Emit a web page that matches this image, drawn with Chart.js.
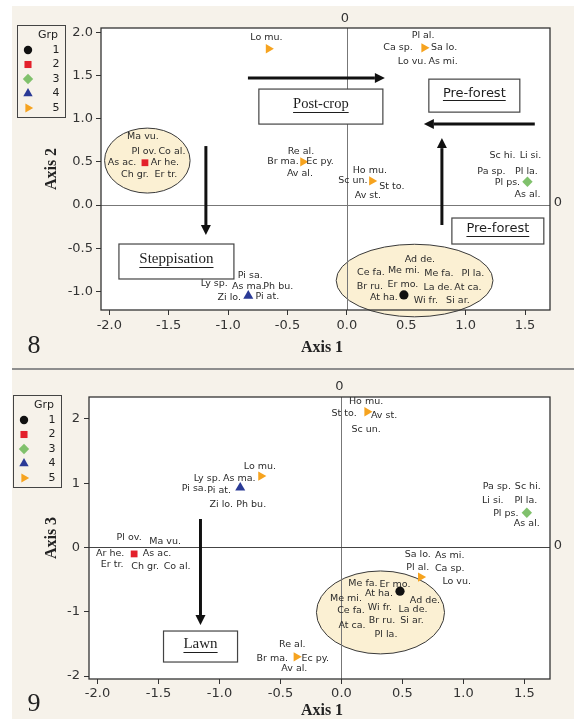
<!DOCTYPE html>
<html>
<head>
<meta charset="utf-8">
<script src="https://cdn.jsdelivr.net/npm/chart.js@4.4.1/dist/chart.umd.min.js"></script>
<style>
  html, body { margin: 0; padding: 0; background: #fff; }
  #page { position: relative; width: 574px; height: 719px; background: #fff; overflow: hidden; }
  #paper { position: absolute; left: 12px; top: 6px; right: 0; bottom: 0; background: #f6f2ea; }
  #rule { position: absolute; left: 12px; right: 0; top: 368px; height: 2px; background: #8e8e8e; }
  canvas { position: absolute; left: 0; }
  #c8 { top: 0; }
  #c9 { top: 370px; }
</style>
</head>
<body>
<div id="page">
  <div id="paper"></div>
  <div id="rule"></div>
  <canvas id="c8" width="574" height="368"></canvas>
  <canvas id="c9" width="574" height="349"></canvas>
</div>
<script>
// ---- data -------------------------------------------------------------
const groupNames = ['1', '2', '3', '4', '5'];
const groupColors = ['#111111', '#e3202b', '#80c16c', '#2a3a96', '#f6a31f'];

// ordination scores, one list per group (group 5 holds four species clusters)
const axis1Scores = [[0.48], [-1.70], [1.52], [-0.83], [-0.66, 0.65, -0.37, 0.21]];
const axis2Scores = [[-1.04], [0.49], [0.27], [-1.05], [1.81, 1.82, 0.50, 0.28]];
const axis3Scores = [[-0.68], [-0.10], [0.54], [0.93], [1.11, -0.46, -1.70, 2.11]];

// species attached to each point
const speciesSets = [
  [['Ad de.', 'Ce fa.', 'Me mi.', 'Me fa.', 'Pl la.', 'Br ru.', 'Er mo.', 'La de.', 'At ca.', 'At ha.', 'Wi fr.', 'Si ar.']],
  [['Ma vu.', 'Pl ov.', 'Co al.', 'As ac.', 'Ar he.', 'Ch gr.', 'Er tr.']],
  [['Sc hi.', 'Li si.', 'Pa sp.', 'Pl la.', 'Pl ps.', 'As al.']],
  [['Pi sa.', 'Ly sp.', 'As ma.', 'Ph bu.', 'Zi lo.', 'Pi at.']],
  [['Lo mu.'], ['Pl al.', 'Ca sp.', 'Sa lo.', 'Lo vu.', 'As mi.'], ['Re al.', 'Br ma.', 'Ec py.', 'Av al.'], ['Ho mu.', 'Sc un.', 'St to.', 'Av st.']]
];

const xTicks = [-2.0, -1.5, -1.0, -0.5, 0.0, 0.5, 1.0, 1.5];
const axis2Ticks = [-1.0, -0.5, 0.0, 0.5, 1.0, 1.5, 2.0];
const axis3Ticks = [-2, -1, 0, 1, 2];

// ---- styling ------------------------------------------------------------
const SANS = "'DejaVu Sans', Verdana, sans-serif";
const SERIF = "'Liberation Serif', 'Times New Roman', serif";
const pointStyles = ['circle', 'rect', 'rectRot', 'triangle', 'triangle'];
const pointRotations = [0, 0, 0, 0, 90];
const pointRadii = [4.6, 4.8, 5.2, 5.8, 5.4];
const legendRadii = [4.2, 5.0, 5.2, 5.4, 5.2];

// label placement: pixel offsets of each species name from its point
const labelOffsets8 = [
  [[[16,-35],[-33,-22],[0,-24],[35,-21],[69,-21],[-34,-8],[-1,-10],[34,-7],[64,-7],[-20,3],[22,6],[54,6]]],
  [[[-2,-26],[-1,-11],[27,-11],[-23,0],[20,0],[-10,12],[21,12]]],
  [[[-25,-26],[3,-26],[-36,-10],[-1,-10],[-20,1],[0,13]]],
  [[[2,-20],[-34,-12],[0,-9],[30,-9],[-19,2],[19,1]]],
  [[[-2,-11]], [[-1,-12],[-26,0],[20,0],[-12,14],[19,14]], [[-2,-10],[-20,0],[17,0],[-3,12]], [[-2,-10],[-19,0],[20,6],[-4,15]]]
];
const labelOffsets9 = [
  [[[25,9],[-49,19],[-54,7],[-37,-8],[-14,43],[-18,29],[-5,-7],[13,18],[-48,34],[-21,2],[-20,16],[12,29]]],
  [[[31,-12],[-5,-16],[43,13],[23,0],[-24,0],[11,13],[-22,11]]],
  [[[1,-26],[-34,-12],[-30,-26],[-1,-12],[-21,1],[0,11]]],
  [[[-46,1],[-33,-9],[-1,-9],[11,17],[-19,17],[-21,3]]],
  [[[-1,-10]], [[-3,-10],[29,-9],[-3,-23],[36,4],[29,-22]], [[-4,-12],[-24,2],[19,2],[-2,12]], [[-1,-10],[-1,18],[-23,2],[17,4]]]
];

// annotation shapes, in axis units
const decor8 = {
  ellipses: [
    { cx: -1.68, cy: 0.515, rx: 0.36, ry: 0.376 },
    { cx: 0.57, cy: -0.874, rx: 0.66, ry: 0.42 }
  ],
  boxes: [
    { x1: -0.741, x2: 0.303, y1: 1.343, y2: 0.9375, text: 'Post-crop', font: SERIF, size: 14.5 },
    { x1: 0.69, x2: 1.456, y1: 1.458, y2: 1.076, text: 'Pre-forest', font: SANS, size: 13 },
    { x1: 0.884, x2: 1.658, y1: -0.150, y2: -0.451, text: 'Pre-forest', font: SANS, size: 13 },
    { x1: -1.919, x2: -0.951, y1: -0.451, y2: -0.856, text: 'Steppisation', font: SERIF, size: 15 }
  ],
  arrows: [
    { x1: -0.833, y1: 1.47, x2: 0.32, y2: 1.47 },
    { x1: 1.582, y1: 0.9375, x2: 0.648, y2: 0.9375 },
    { x1: 0.80, y1: -0.231, x2: 0.80, y2: 0.775 },
    { x1: -1.187, y1: 0.683, x2: -1.187, y2: -0.347 }
  ],
  yTitle: 'Axis 2', figNo: '8', legendX: 17, zeroTopGap: 9, hZeroColor: '#777',
  titleGap: 38, figGap: 36
};
const decor9 = {
  ellipses: [
    { cx: 0.32, cy: -1.01, rx: 0.525, ry: 0.645 }
  ],
  boxes: [
    { x1: -1.459, x2: -0.852, y1: -1.299, y2: -1.781, text: 'Lawn', font: SERIF, size: 15 }
  ],
  arrows: [
    { x1: -1.156, y1: 0.443, x2: -1.156, y2: -1.205 }
  ],
  yTitle: 'Axis 3', figNo: '9', legendX: 13, zeroTopGap: 10, hZeroColor: '#444',
  titleGap: 32, figGap: 25
};

// ---- drawing helpers -------------------------------------------------
function marker(ctx, i, x, y, r) {
  ctx.save();
  ctx.fillStyle = groupColors[i];
  ctx.strokeStyle = groupColors[i];
  if (Chart.helpers && Chart.helpers.drawPoint) {
    Chart.helpers.drawPoint(ctx, { pointStyle: pointStyles[i], rotation: pointRotations[i], radius: r, borderWidth: 0 }, x, y);
  } else {
    ctx.beginPath(); ctx.arc(x, y, r, 0, Math.PI * 2); ctx.fill();
  }
  ctx.restore();
}

function arrow(ctx, x1, y1, x2, y2) {
  const a = Math.atan2(y2 - y1, x2 - x1), L = 10, W = 5;
  const bx = x2 - L * Math.cos(a), by = y2 - L * Math.sin(a);
  ctx.save();
  ctx.strokeStyle = '#111'; ctx.fillStyle = '#111'; ctx.lineWidth = 3;
  ctx.beginPath(); ctx.moveTo(x1, y1); ctx.lineTo(bx, by); ctx.stroke();
  ctx.beginPath(); ctx.moveTo(x2, y2);
  ctx.lineTo(bx + W * Math.sin(a), by - W * Math.cos(a));
  ctx.lineTo(bx - W * Math.sin(a), by + W * Math.cos(a));
  ctx.closePath(); ctx.fill();
  ctx.restore();
}

function decorPlugin(decor, offsets) {
  return {
    id: 'ordinationDecor',
    beforeDraw(chart) {
      const { ctx, chartArea: a } = chart;
      ctx.save(); ctx.fillStyle = '#ffffff';
      ctx.fillRect(a.left, a.top, a.right - a.left, a.bottom - a.top);
      ctx.restore();
    },
    beforeDatasetsDraw(chart) {
      const { ctx, chartArea: a, scales: { x, y } } = chart;
      ctx.save();
      // shaded ellipses
      decor.ellipses.forEach(e => {
        const cx = x.getPixelForValue(e.cx), cy = y.getPixelForValue(e.cy);
        const rx = Math.abs(x.getPixelForValue(e.cx + e.rx) - cx);
        const ry = Math.abs(y.getPixelForValue(e.cy + e.ry) - cy);
        ctx.beginPath(); ctx.ellipse(cx, cy, rx, ry, 0, 0, Math.PI * 2);
        ctx.fillStyle = '#fbf0d3'; ctx.fill();
        ctx.strokeStyle = '#3a3a3a'; ctx.lineWidth = 1; ctx.stroke();
      });
      // zero reference lines
      const x0 = Math.round(x.getPixelForValue(0)) + 0.5, y0 = Math.round(y.getPixelForValue(0)) + 0.5;
      ctx.lineWidth = 1;
      ctx.strokeStyle = '#777';
      ctx.beginPath(); ctx.moveTo(x0, a.top); ctx.lineTo(x0, a.bottom); ctx.stroke();
      ctx.strokeStyle = decor.hZeroColor;
      ctx.beginPath(); ctx.moveTo(a.left, y0); ctx.lineTo(a.right, y0); ctx.stroke();
      ctx.restore();
    },
    afterDatasetsDraw(chart) {
      const { ctx, chartArea: a, scales: { x, y } } = chart;
      ctx.save();
      // species names around each point
      ctx.font = '9.5px ' + SANS;
      ctx.fillStyle = '#2b2b2b';
      ctx.textAlign = 'center'; ctx.textBaseline = 'middle';
      speciesSets.forEach((sets, i) => {
        const meta = chart.getDatasetMeta(i);
        sets.forEach((names, j) => {
          const pt = meta.data[j];
          names.forEach((n, k) => {
            const o = offsets[i][j][k];
            ctx.fillText(n, pt.x + o[0], pt.y + o[1]);
          });
        });
      });
      // arrows
      decor.arrows.forEach(r => arrow(ctx,
        x.getPixelForValue(r.x1), y.getPixelForValue(r.y1),
        x.getPixelForValue(r.x2), y.getPixelForValue(r.y2)));
      // labelled boxes
      decor.boxes.forEach(b => {
        const l = x.getPixelForValue(b.x1), r = x.getPixelForValue(b.x2);
        const t = y.getPixelForValue(b.y1), btm = y.getPixelForValue(b.y2);
        ctx.fillStyle = '#ffffff';
        ctx.fillRect(l, t, r - l, btm - t);
        ctx.strokeStyle = '#444'; ctx.lineWidth = 1.2;
        ctx.strokeRect(l, t, r - l, btm - t);
        ctx.font = b.size + 'px ' + b.font;
        ctx.fillStyle = '#1e1e1e';
        ctx.textAlign = 'center'; ctx.textBaseline = 'middle';
        const cx = (l + r) / 2, cy = (t + btm) / 2 - 2;
        ctx.fillText(b.text, cx, cy);
        const w = ctx.measureText(b.text).width;
        ctx.strokeStyle = '#1e1e1e'; ctx.lineWidth = 1;
        ctx.beginPath();
        ctx.moveTo(cx - w / 2, Math.round(cy + b.size * 0.5) + 0.5);
        ctx.lineTo(cx + w / 2, Math.round(cy + b.size * 0.5) + 0.5);
        ctx.stroke();
      });
      // frame
      ctx.strokeStyle = '#333'; ctx.lineWidth = 1.3;
      ctx.strokeRect(a.left, a.top, a.right - a.left, a.bottom - a.top);
      // zero markers outside the frame
      ctx.font = '13px ' + SANS; ctx.fillStyle = '#333';
      ctx.textAlign = 'center'; ctx.textBaseline = 'middle';
      ctx.fillText('0', x.getPixelForValue(0) - 2, a.top - decor.zeroTopGap);
      ctx.fillText('0', a.right + 8, y.getPixelForValue(0) - 2);
      // axis titles
      ctx.font = 'bold 16px ' + SERIF; ctx.fillStyle = '#222';
      ctx.fillText('Axis 1', 322, a.bottom + decor.titleGap);
      ctx.save();
      ctx.translate(52, (a.top + a.bottom) / 2);
      ctx.rotate(-Math.PI / 2);
      ctx.fillText(decor.yTitle, 0, 0);
      ctx.restore();
      // figure number
      ctx.font = '26px ' + SERIF; ctx.fillStyle = '#222';
      ctx.fillText(decor.figNo, 34, a.bottom + decor.figGap);
      // group legend
      const lx = decor.legendX, ly = 25;
      ctx.strokeStyle = '#444'; ctx.lineWidth = 1;
      ctx.strokeRect(lx + 0.5, ly + 0.5, 48, 92);
      ctx.font = '11px ' + SANS; ctx.fillStyle = '#222';
      ctx.textAlign = 'center';
      ctx.fillText('Grp', lx + 31, ly + 10);
      groupNames.forEach((g, i) => {
        const ry = ly + 25 + i * 14.5;
        marker(ctx, i, lx + 11, ry, legendRadii[i]);
        ctx.fillStyle = '#222';
        ctx.fillText(g, lx + 39, ry);
      });
      ctx.restore();
    }
  };
}

function buildDatasets(yScores) {
  return groupNames.map((g, i) => ({
    label: g,
    data: axis1Scores[i].map((v, j) => ({ x: v, y: yScores[i][j] })),
    pointStyle: pointStyles[i],
    rotation: pointRotations[i],
    pointRadius: pointRadii[i],
    backgroundColor: groupColors[i],
    borderColor: groupColors[i],
    borderWidth: 0,
    showLine: false
  }));
}

function makeChart(id, yScores, yTicks, yMin, yMax, fmtY, geo, decor, offsets) {
  const tickFont = { family: SANS, size: 13 };
  return new Chart(document.getElementById(id), {
    type: 'scatter',
    data: { datasets: buildDatasets(yScores) },
    options: {
      responsive: false,
      animation: false,
      devicePixelRatio: 1,
      layout: { padding: geo.padding },
      plugins: { legend: { display: false }, tooltip: { enabled: false } },
      scales: {
        x: {
          type: 'linear', min: -2.07, max: 1.71,
          afterBuildTicks: s => { s.ticks = xTicks.map(v => ({ value: v })); },
          afterFit: s => { s.height = geo.xHeight; },
          grid: { drawOnChartArea: false, drawTicks: true, tickLength: 5, color: '#333' },
          border: { display: false },
          ticks: { font: tickFont, color: '#333', padding: geo.xPad, maxRotation: 0,
                   callback: v => Number(v).toFixed(1) }
        },
        y: {
          type: 'linear', min: yMin, max: yMax,
          afterBuildTicks: s => { s.ticks = yTicks.map(v => ({ value: v })); },
          afterFit: s => { s.width = geo.yWidth; },
          grid: { drawOnChartArea: false, drawTicks: true, tickLength: 5, color: '#333' },
          border: { display: false },
          ticks: { font: tickFont, color: '#333', padding: geo.yPad, callback: fmtY }
        }
      }
    },
    plugins: [decorPlugin(decor, offsets)]
  });
}

makeChart('c8', axis2Scores, axis2Ticks, -1.215, 2.05, v => Number(v).toFixed(1),
  { padding: { left: 0, top: 28, right: 24, bottom: 18 }, xHeight: 40, yWidth: 101, xPad: 3, yPad: 3 },
  decor8, labelOffsets8);

makeChart('c9', axis3Scores, axis3Ticks, -2.045, 2.34, v => String(Math.round(v)),
  { padding: { left: 0, top: 27, right: 24, bottom: 10 }, xHeight: 30, yWidth: 89, xPad: 2, yPad: 4 },
  decor9, labelOffsets9);
</script>
</body>
</html>
